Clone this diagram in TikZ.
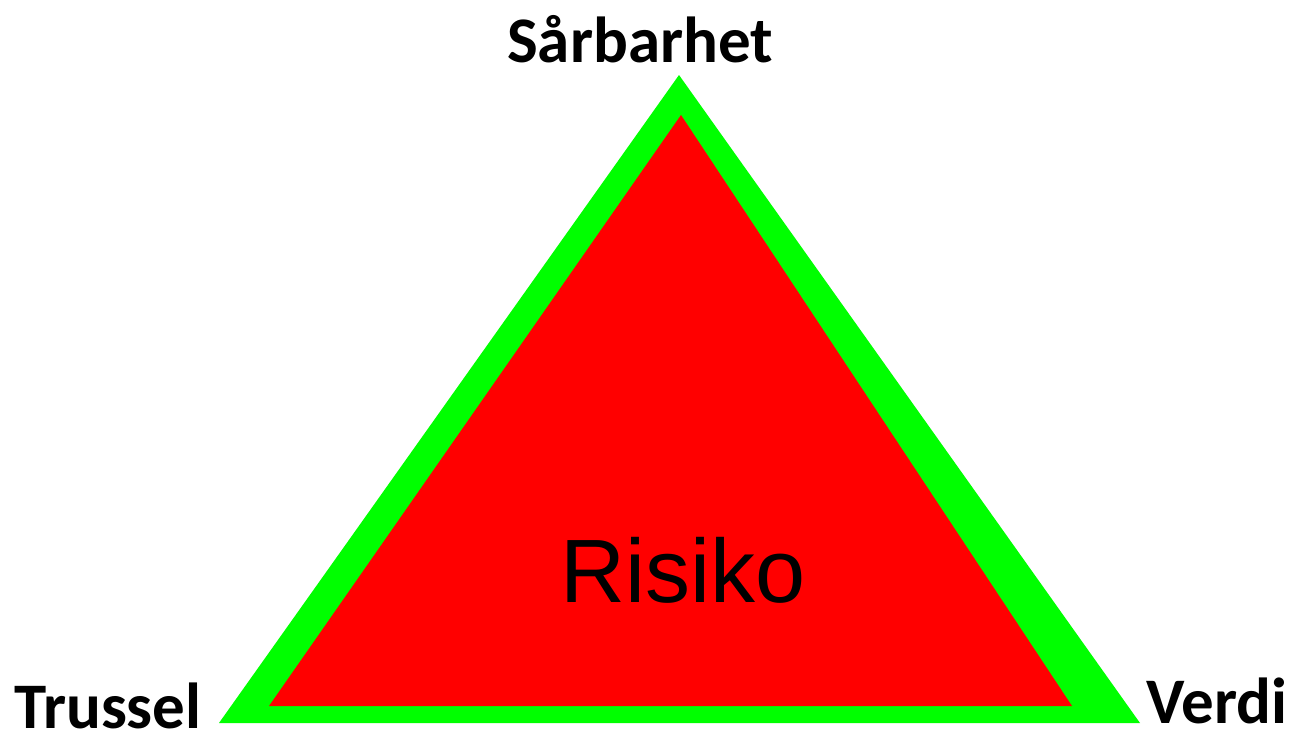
\documentclass[tikz,border=0pt]{standalone}
\usepackage{fontspec}
\setmainfont{Carlito}
\newfontfamily\risikofont{Liberation Sans}
\usetikzlibrary{positioning}
\definecolor{trigreen}{HTML}{00FF00}
\definecolor{trired}{HTML}{FF0000}
\tikzset{
  % etichette dei vertici
  vlbl/.style={font=\fontsize{65}{70}\selectfont\bfseries, inner sep=0pt, text=black},
  % testo centrale
  risklbl/.style={font=\risikofont\fontsize{90}{96}\selectfont, inner sep=0pt, text=black},
}
\begin{document}
\begin{tikzpicture}[x=1pt, y=-1pt]
  \useasboundingbox (0,0) rectangle (1295,732);
  % triangolo esterno e interno
  \fill[trigreen] (679,75) -- (1140,723) -- (219,723) -- cycle;
  \fill[trired] (681,115) -- (1072,706) -- (269,706) -- cycle;
  \node[risklbl, anchor=base] (risiko) at (683,602) {Risiko};
  \node[vlbl, anchor=base] (saar) at (640,62) {Sårbarhet};
  \node[vlbl, anchor=base west] (truss) at (14,728) {Trussel};
  \node[vlbl, anchor=base west] (verdi) at (1146,723) {Verdi};
\end{tikzpicture}
\end{document}
